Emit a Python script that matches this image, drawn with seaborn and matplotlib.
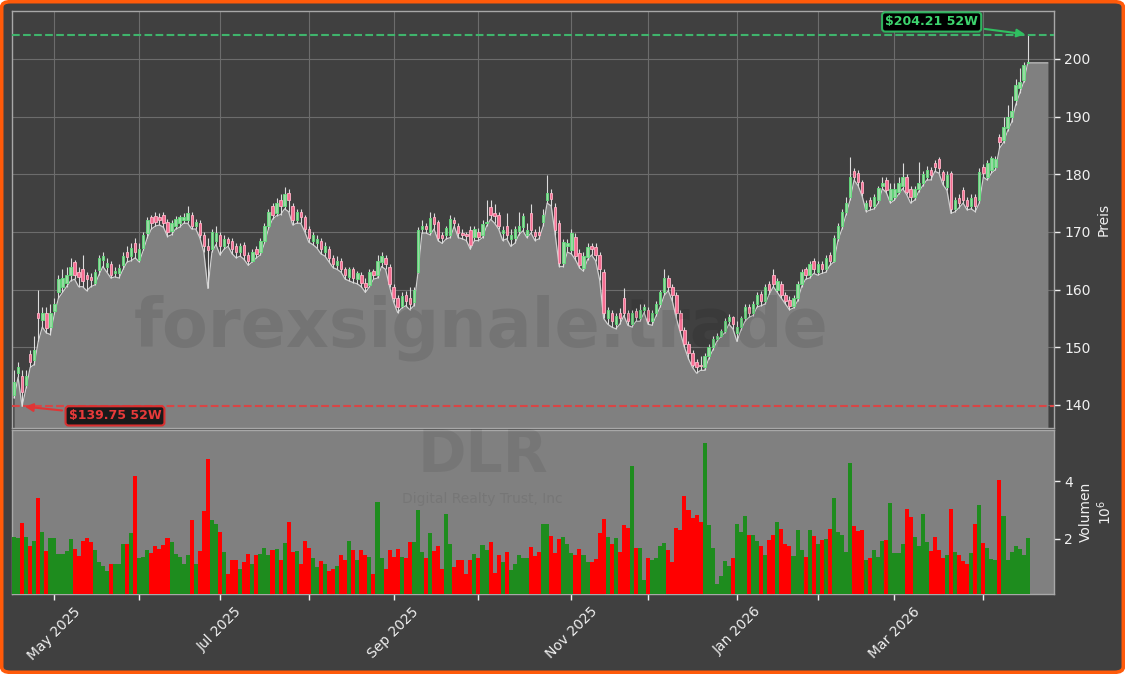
import numpy as np
import pandas as pd
import seaborn as sns
import matplotlib.pyplot as plt
from matplotlib.patches import FancyBboxPatch

# --- daily OHLC (USD) and volume (millions), Apr 16 2025 - Apr 17 2026 ---
opens = [
    # Apr 2025
    141.7, 145.5, 145.0, 143.5, 148.8, 147.8, 156.0, 154.7, 156.0, 153.5,
    # May
    156.3, 159.5, 160.5, 161.2, 162.5, 164.8, 163.0, 163.5, 162.5, 162.2, 161.2,
    163.4, 165.2, 164.0, 164.4, 162.8, 162.8, 164.2, 166.5, 165.8, 168.0,
    # Jun
    165.2, 167.2, 169.8, 172.5, 172.8, 172.6, 173.0, 171.8, 170.2, 171.0,
    171.5, 172.0, 172.0, 173.0, 171.0, 171.5, 169.5, 167.5, 167.0, 168.5,
    # Jul
    169.5, 167.5, 168.8, 168.5, 167.5, 166.5, 167.8, 166.0, 165.0, 167.0, 166.5,
    168.5, 171.0, 174.5, 173.2, 175.5, 174.5, 176.8, 174.5, 172.0, 173.5, 172.5,
    # Aug
    170.5, 168.5, 168.0, 168.5, 166.5, 167.0, 165.5, 164.2, 165.0, 163.5, 162.2,
    163.5, 161.8, 162.5, 161.2, 160.8, 163.2, 162.5, 164.8, 165.5, 164.0,
    # Sep
    160.5, 158.5, 157.2, 159.0, 158.5, 157.8, 163.0, 170.5, 171.0, 170.0, 172.5,
    171.7, 169.5, 169.5, 169.5, 172.1, 171.0, 169.8, 169.6, 170.3, 169.1,
    # Oct
    170.0, 169.5, 171.5, 174.3, 173.2, 173.0, 169.8, 171.0, 168.8, 169.0, 170.2, 170.9,
    169.5, 173.3, 170.0, 170.0, 171.7, 175.5, 176.8, 174.3, 171.6, 164.6, 167.5,
    # Nov
    166.9, 169.2, 166.4, 163.7, 165.7, 167.5, 167.4, 166.0, 163.0, 155.0,
    156.0, 154.0, 156.0, 158.5, 156.0, 154.0, 156.2, 155.0, 156.5,
    # Dec
    156.5, 154.5, 156.0, 157.5, 159.5, 162.0, 160.5, 159.0, 156.0, 153.0, 150.5,
    149.0, 147.5, 147.0, 146.5, 148.5, 150.0, 151.5, 152.0, 152.8, 154.5, 155.2,
    # Jan 2026
    152.5, 153.5, 155.0, 157.0, 156.0, 157.5, 159.2, 158.0, 161.0, 162.5,
    160.0, 161.0, 159.0, 158.2, 157.2, 158.5, 161.0, 163.5, 162.5, 165.0,
    # Feb
    163.0, 164.5, 163.5, 166.0, 165.0, 169.0, 171.0, 173.5, 176.0, 180.5,
    180.2, 178.7, 174.0, 175.5, 174.5, 175.5, 178.0, 179.0, 175.5,
    # Mar
    176.0, 177.0, 178.0, 179.5, 177.5, 176.0, 177.5, 178.5, 179.5, 180.8, 182.0,
    182.7, 180.4, 177.8, 180.2, 174.0, 175.8, 177.3, 175.5, 174.5, 176.0, 175.5,
    # Apr
    181.3, 179.6, 180.8, 181.3, 186.5, 186.0, 188.0, 190.0, 192.9, 195.0, 196.4, 199.3,
]
closes = [
    143.9, 146.6, 142.2, 145.0, 147.5, 149.5, 155.0, 156.0, 153.4, 156.0,
    157.5, 161.8, 162.0, 162.5, 164.0, 162.5, 162.2, 161.5, 161.8, 161.6, 163.0,
    165.5, 165.9, 164.6, 162.5, 163.3, 163.8, 165.8, 165.6, 167.2, 166.5,
    167.0, 169.5, 172.0, 171.5, 171.8, 172.0, 171.5, 170.0, 171.5, 172.3,
    172.5, 172.6, 173.2, 171.0, 171.8, 169.5, 167.5, 166.8, 170.0, 169.8,
    167.5, 168.8, 168.0, 167.0, 166.5, 167.5, 166.0, 165.0, 166.5, 166.2, 168.5,
    171.0, 173.5, 173.0, 175.0, 174.5, 176.5, 175.5, 172.0, 173.5, 172.5, 170.5,
    169.0, 169.5, 168.8, 167.0, 167.5, 165.5, 164.5, 165.0, 163.5, 162.5, 163.5,
    162.0, 162.8, 161.2, 160.5, 163.0, 162.5, 165.0, 165.8, 164.5, 161.0,
    158.5, 157.0, 158.8, 158.0, 157.5, 160.0, 170.3, 171.0, 170.5, 172.4, 171.3,
    169.0, 169.0, 170.6, 172.3, 171.6, 169.8, 169.4, 169.3, 167.7, 170.5,
    169.1, 171.3, 171.8, 173.0, 172.8, 171.0, 170.3, 169.5, 169.5, 170.5, 171.0, 172.8,
    170.3, 170.3, 169.3, 169.5, 173.0, 176.8, 175.7, 170.3, 164.6, 168.3, 168.0,
    169.8, 165.8, 164.3, 165.8, 167.4, 167.0, 166.0, 163.5, 156.0, 156.5,
    154.5, 155.5, 155.0, 156.0, 154.5, 156.0, 155.2, 156.5, 157.0,
    154.5, 156.0, 157.5, 159.5, 162.0, 160.5, 159.0, 156.0, 153.0, 150.5, 149.0,
    147.0, 146.5, 146.8, 148.5, 150.0, 151.5, 152.0, 152.8, 154.5, 155.2, 154.0,
    153.5, 155.0, 157.0, 156.0, 157.5, 159.0, 158.0, 160.5, 160.0, 161.0,
    161.5, 159.0, 158.0, 157.2, 158.5, 161.0, 163.0, 162.5, 164.5, 163.5,
    164.5, 163.5, 165.5, 165.0, 169.0, 171.0, 173.5, 175.0, 179.5, 179.5,
    178.7, 176.8, 175.0, 174.5, 176.0, 177.6, 178.5, 177.3, 177.5,
    177.5, 178.5, 179.5, 177.0, 176.0, 177.5, 178.5, 180.0, 180.8, 179.8, 181.3,
    181.1, 179.0, 179.9, 174.0, 175.5, 175.0, 175.5, 174.5, 175.8, 174.5, 180.4,
    180.2, 182.0, 182.8, 182.6, 185.6, 188.2, 190.0, 191.0, 195.5, 196.0, 199.0, 199.5,
]
highs = [
    146.0, 147.5, 146.0, 146.0, 149.5, 152.0, 160.0, 157.0, 157.0, 157.5,
    158.5, 162.5, 163.5, 164.0, 165.5, 165.2, 164.0, 166.0, 163.0, 162.8, 163.5,
    166.0, 166.5, 165.5, 165.0, 164.0, 164.5, 166.5, 167.5, 168.0, 169.0,
    168.0, 170.0, 172.5, 173.0, 173.5, 173.2, 173.5, 172.2, 172.0, 172.8,
    173.0, 173.2, 174.5, 173.5, 172.3, 172.0, 170.0, 169.0, 170.5, 171.0,
    170.0, 169.5, 169.2, 169.0, 168.0, 168.0, 168.2, 166.5, 167.0, 167.5, 169.0,
    171.5, 174.0, 175.0, 175.8, 176.5, 177.8, 177.5, 175.0, 174.0, 174.0, 173.0,
    171.0, 170.0, 169.5, 169.0, 168.2, 167.5, 166.0, 165.8, 165.5, 164.0, 164.0,
    164.0, 163.2, 163.0, 162.0, 163.5, 163.5, 166.0, 166.5, 166.0, 164.5,
    161.0, 159.0, 159.5, 159.8, 160.5, 160.5, 170.8, 172.0, 171.5, 173.5, 173.2,
    172.0, 170.0, 171.0, 173.0, 172.6, 171.5, 170.5, 170.0, 171.0, 171.0,
    170.6, 172.0, 175.5, 175.5, 174.8, 173.5, 171.0, 173.3, 170.5, 171.0, 173.5, 173.2,
    171.5, 174.8, 170.5, 171.0, 174.0, 179.9, 177.5, 175.0, 172.0, 168.8, 168.8,
    170.5, 169.8, 167.0, 166.5, 168.0, 168.0, 168.0, 166.5, 163.5, 157.0,
    156.5, 156.0, 156.8, 160.2, 156.5, 156.5, 156.8, 157.5, 157.5,
    157.0, 156.5, 158.0, 160.0, 163.5, 162.5, 161.0, 159.5, 156.5, 153.5, 151.0,
    149.5, 148.0, 148.5, 149.0, 150.5, 152.0, 152.5, 153.2, 155.0, 155.8, 155.5,
    154.5, 155.5, 157.5, 157.5, 158.0, 159.5, 159.8, 161.0, 161.5, 163.5,
    162.0, 161.5, 159.5, 158.8, 159.0, 161.5, 163.5, 164.0, 165.0, 165.5,
    165.0, 165.0, 166.0, 166.5, 169.5, 171.5, 174.0, 176.0, 183.0, 181.0,
    180.8, 179.0, 175.5, 176.0, 176.5, 178.0, 179.5, 179.5, 178.5,
    178.5, 179.5, 182.0, 180.0, 178.0, 178.0, 182.2, 180.5, 181.5, 181.2, 182.5,
    183.0, 180.8, 180.5, 180.5, 176.0, 176.5, 177.8, 176.0, 176.5, 176.5, 181.0,
    181.8, 182.5, 183.2, 183.2, 187.0, 190.0, 192.0, 193.5, 196.5, 198.5, 199.5, 204.21,
]
lows = [
    141.2, 144.8, 139.75, 143.0, 146.5, 147.0, 151.0, 153.5, 152.5, 152.2,
    155.8, 158.5, 159.5, 160.5, 161.5, 161.8, 160.5, 160.5, 159.8, 160.5, 160.8,
    162.5, 164.0, 163.0, 162.0, 162.2, 162.0, 163.5, 164.8, 165.0, 165.5,
    164.8, 166.8, 169.0, 170.5, 171.0, 171.2, 170.8, 169.2, 169.5, 170.5,
    170.8, 171.5, 171.5, 170.5, 170.5, 169.0, 166.5, 160.2, 166.5, 167.8,
    166.0, 167.0, 167.5, 166.2, 165.5, 165.8, 165.2, 164.2, 164.8, 165.5, 166.0,
    168.0, 170.5, 172.2, 172.8, 173.0, 174.0, 173.5, 171.2, 171.5, 171.5, 170.0,
    168.2, 167.8, 167.2, 166.2, 165.8, 164.8, 163.8, 163.5, 163.0, 161.8, 161.5,
    161.2, 161.0, 160.5, 159.5, 160.5, 161.8, 162.0, 164.0, 163.5, 160.5,
    157.8, 156.0, 156.8, 157.2, 156.5, 157.2, 162.8, 169.8, 169.8, 169.5, 170.5,
    168.5, 168.0, 168.8, 169.0, 171.0, 169.0, 168.8, 168.5, 167.0, 168.5,
    168.5, 169.0, 171.0, 172.2, 171.5, 170.5, 168.5, 168.8, 167.5, 168.0, 169.5, 170.2,
    169.0, 169.8, 168.5, 168.8, 171.0, 175.0, 174.5, 169.5, 164.0, 164.0, 166.5,
    166.2, 165.2, 163.8, 163.2, 165.2, 166.0, 165.0, 161.7, 155.0, 154.0,
    153.5, 153.2, 154.0, 155.5, 153.8, 153.5, 154.5, 154.5, 156.0,
    154.0, 153.8, 155.5, 157.0, 159.0, 159.8, 158.0, 155.0, 152.5, 150.0, 148.0,
    146.5, 145.5, 146.0, 146.0, 148.0, 149.5, 151.0, 151.8, 152.5, 154.0, 153.2,
    151.0, 153.0, 154.5, 155.2, 155.5, 157.0, 157.2, 157.5, 159.2, 160.5,
    159.5, 158.5, 157.5, 156.5, 156.8, 158.0, 160.5, 161.8, 162.0, 162.8,
    162.5, 162.8, 163.0, 164.2, 164.8, 168.5, 170.5, 173.0, 175.5, 179.0,
    178.0, 176.2, 173.5, 173.8, 174.0, 175.0, 177.5, 176.8, 175.0,
    175.5, 176.5, 177.5, 176.5, 175.0, 175.5, 177.0, 178.0, 179.0, 179.0, 180.5,
    180.2, 178.2, 177.2, 173.2, 173.5, 174.2, 175.0, 173.8, 174.0, 173.5, 175.0,
    179.5, 179.0, 180.2, 180.8, 184.5, 185.5, 187.5, 189.0, 192.0, 194.0, 196.0, 199.3,
]
volume_m = [
    2.08, 2.03, 2.55, 2.08, 1.76, 1.93, 3.41, 2.24, 1.59, 2.03,
    2.03, 1.48, 1.48, 1.60, 2.00, 1.67, 1.41, 1.93, 2.03, 1.89, 1.63,
    1.21, 1.06, 0.91, 1.12, 1.15, 1.12, 1.84, 1.84, 2.20, 4.17,
    1.34, 1.38, 1.61, 1.53, 1.75, 1.67, 1.79, 2.03, 1.89, 1.48,
    1.38, 1.15, 1.46, 2.67, 1.14, 1.57, 2.97, 4.76, 2.67, 2.53,
    2.24, 1.56, 0.78, 1.26, 1.26, 0.98, 1.20, 1.48, 1.15, 1.43, 1.48,
    1.68, 1.46, 1.61, 1.66, 1.26, 1.86, 2.60, 1.55, 1.59, 1.12, 1.93,
    1.68, 1.33, 1.02, 1.25, 1.14, 0.90, 0.98, 1.06, 1.46, 1.29, 1.92,
    1.63, 1.29, 1.63, 1.46, 1.36, 0.78, 3.29, 1.33, 0.98, 1.63,
    1.36, 1.67, 1.36, 1.34, 1.88, 1.88, 3.00, 1.56, 1.34, 2.20, 1.59,
    1.76, 0.98, 2.86, 1.84, 1.03, 1.29, 1.26, 0.78, 1.26, 1.48,
    1.33, 1.80, 1.63, 1.88, 0.83, 1.46, 1.20, 1.54, 0.94, 1.12, 1.43, 1.33,
    1.33, 1.72, 1.41, 1.55, 2.52, 2.50, 2.10, 1.50, 2.00, 2.07, 1.84,
    1.50, 1.44, 1.67, 1.46, 1.21, 1.22, 1.31, 2.20, 2.68, 2.07,
    1.84, 2.04, 1.54, 2.47, 2.39, 4.52, 1.68, 1.68, 0.59,
    1.34, 1.29, 1.34, 1.76, 1.86, 1.63, 1.22, 2.39, 2.30, 3.48, 3.00,
    2.74, 2.83, 2.57, 5.30, 2.47, 1.68, 0.45, 0.72, 1.25, 1.08, 1.34,
    2.52, 2.25, 2.80, 2.14, 2.14, 1.93, 1.76, 1.45, 1.96, 2.14,
    2.58, 2.35, 1.82, 1.75, 1.41, 2.30, 1.61, 1.37, 2.30, 2.10,
    1.81, 1.96, 2.00, 2.35, 3.41, 2.23, 2.14, 1.55, 4.62, 2.43,
    2.28, 2.30, 1.29, 1.34, 1.61, 1.38, 1.93, 1.96, 3.23,
    1.51, 1.51, 1.84, 3.05, 2.75, 2.07, 1.76, 2.86, 1.88, 1.59, 2.07,
    1.61, 1.34, 1.44, 3.05, 1.55, 1.44, 1.24, 1.13, 1.50, 2.52, 3.16,
    1.86, 1.68, 1.31, 1.26, 4.03, 2.78, 1.29, 1.55, 1.76, 1.66, 1.45, 2.04,
]
holidays = ["2025-04-18", "2025-05-26", "2025-06-19", "2025-07-04", "2025-09-01",
            "2025-11-27", "2025-12-25", "2026-01-01", "2026-01-19", "2026-02-16",
            "2026-04-03"]
high_52w, low_52w = 204.21, 139.75
ticker, company, watermark = "DLR", "Digital Realty Trust, Inc", "forexsignale.trade"

dates = pd.bdate_range("2025-04-16", "2026-04-17", freq="C", holidays=holidays)
df = pd.DataFrame({"Date": dates, "Open": opens, "High": highs, "Low": lows,
                   "Close": closes, "Volume": volume_m})
df["i"] = np.arange(len(df))
df["up"] = df["Close"] >= df["Open"]

BG = "#404040"
FG = "#f0f0f0"
sns.set_theme(style="dark", rc={"axes.facecolor": BG, "figure.facecolor": "white",
                                "text.color": FG, "xtick.color": FG, "ytick.color": FG,
                                "axes.labelcolor": FG})
plt.rcParams["font.family"] = ["DejaVu Sans"]

fig = plt.figure(figsize=(11.25, 6.74), dpi=100)
fig.patches.append(FancyBboxPatch((0.0015, 0.0025), 0.997, 0.995,
                                  boxstyle="round,pad=0,rounding_size=0.008",
                                  transform=fig.transFigure, facecolor=BG,
                                  edgecolor="#ff5a0a", linewidth=2.6, zorder=-10))

ax = fig.add_axes([0.01067, 0.36499, 0.92622, 0.61869])
axv = fig.add_axes([0.01067, 0.11869, 0.92622, 0.24332], sharex=ax)

# price panel: low-line area, candles, 52w lines
ext_x = list(df["i"]) + [len(df) + 4]
ext_low = list(df["Low"]) + [df["Low"].iloc[-1]]
y_bottom = 136.0
ax.fill_between(ext_x, ext_low, y_bottom, color="#808080", zorder=2, lw=0)
sns.lineplot(x=ext_x, y=ext_low, ax=ax, color="#cfcfcf", lw=0.9, zorder=3)
ax.vlines(df["i"], df["Low"], df["High"], color="#dcdcdc", lw=0.8, zorder=4)
body_lo = np.minimum(df["Open"], df["Close"])
body_h = np.maximum((df["Close"] - df["Open"]).abs(), 0.15)
up = df["up"].values
ax.bar(df["i"][up], body_h[up], bottom=body_lo[up], width=0.6,
       color="#9ad9a4", edgecolor="#5fe07a", lw=0.6, zorder=5)
ax.bar(df["i"][~up], body_h[~up], bottom=body_lo[~up], width=0.6,
       color="#f56d92", edgecolor="#ffb6c8", lw=0.6, zorder=5)

ax.axhline(high_52w, color="#3fb46c", ls="--", lw=1.5, zorder=6)
ax.axhline(low_52w, color="#d94545", ls="--", lw=1.5, zorder=6)
ax.annotate(f"${high_52w:.2f} 52W", xy=(df["i"].iloc[-1], high_52w), xytext=(227.2, 206.4),
            ha="center", va="center", fontsize=9, fontweight="bold", color="#3dd46e",
            bbox=dict(boxstyle="round,pad=0.25", fc="black", ec="#2fb35e", lw=1.5),
            arrowprops=dict(arrowstyle="-|>", color="#2fc060", lw=1.5, mutation_scale=12),
            zorder=8)
i_low = int(df["Low"].idxmin())
ax.annotate(f"${low_52w:.2f} 52W", xy=(i_low, low_52w), xytext=(25.0, 138.1),
            ha="center", va="center", fontsize=9, fontweight="bold", color="#e83a3a",
            bbox=dict(boxstyle="round,pad=0.25", fc="#1a1a1a", ec="#d93030", lw=1.5),
            arrowprops=dict(arrowstyle="-|>", color="#e03535", lw=1.5, mutation_scale=12),
            zorder=8)

ax.set_ylim(y_bottom, 208.3)
ax.set_yticks([140, 150, 160, 170, 180, 190, 200])
ax.yaxis.tick_right()
ax.yaxis.set_label_position("right")
ax.set_ylabel("Preis", fontsize=10)
ax.set_xlabel("")
ax.grid(True, color="#6c6c6c", lw=0.8, zorder=0)
ax.set_axisbelow(True)
ax.tick_params(axis="x", bottom=False, labelbottom=False)
ax.tick_params(axis="y", right=True, length=4, width=1, labelsize=10, colors=FG)

# volume panel
axv.set_facecolor("#808080")
axv.bar(df["i"], df["Volume"], width=1.0, lw=0,
        color=np.where(up, "#1e8c1e", "#ff0000"), zorder=3)
axv.set_ylim(0.1, 5.76)
axv.set_yticks([2, 4])
axv.set_yticklabels(["2", "4"])
axv.yaxis.tick_right()
axv.yaxis.set_label_position("right")
axv.set_ylabel("Volumen\n$10^{6}$", fontsize=10)
axv.grid(False)

month_pos = [i for i in range(1, len(dates)) if dates[i].month != dates[i - 1].month]
month_lab = [dates[i].strftime("%b %Y") if dates[i].month % 2 == 1 else "" for i in month_pos]
axv.set_xticks(month_pos)
axv.set_xticklabels(month_lab, rotation=45, ha="center", fontsize=10)
axv.tick_params(axis="x", bottom=True, length=4, width=1, colors=FG)
axv.tick_params(axis="y", right=True, length=4, width=1, labelsize=10, colors=FG)
ax.set_xlim(-0.5, len(df) + 5.5)

for a in (ax, axv):
    for s in a.spines.values():
        s.set_color("#a8a8a8")
        s.set_linewidth(1.0)

# watermarks
fig.text(0.428, 0.514, watermark, ha="center", va="center", fontsize=48,
         fontweight="bold", color="black", alpha=0.09, zorder=20)
fig.text(0.429, 0.3245, ticker, ha="center", va="center", fontsize=42,
         fontweight="bold", color="black", alpha=0.07, zorder=20)
fig.text(0.429, 0.259, company, ha="center", va="center", fontsize=10,
         color="black", alpha=0.07, zorder=20)

fig.savefig("out.png", dpi=100)
plt.close(fig)
